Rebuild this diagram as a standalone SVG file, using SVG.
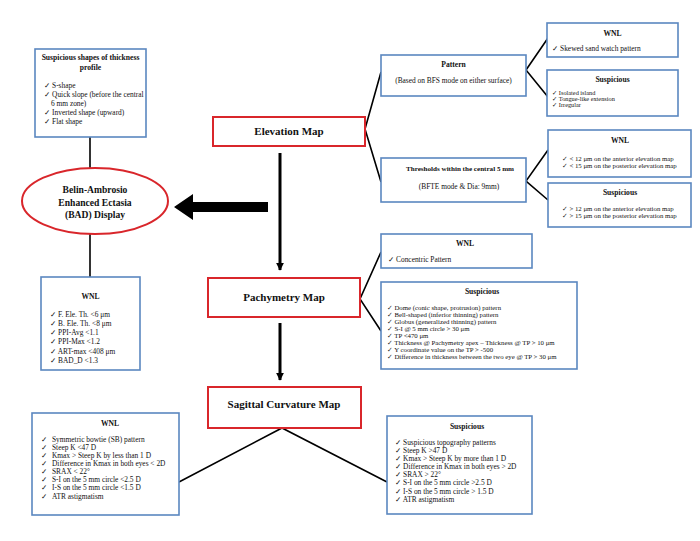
<svg xmlns="http://www.w3.org/2000/svg" width="700" height="541" viewBox="0 0 700 541">
<defs>
<style>
.bg{fill:#ffffff}
.blue{fill:#ffffff;stroke:#5b87c0;stroke-width:1.6}
.red{fill:#ffffff;stroke:#d9262b;stroke-width:2}
.ln{stroke:#000;stroke-width:1.6;fill:none}
.t{font-family:"Liberation Serif","DejaVu Sans",sans-serif;font-size:7.4px;fill:#111}
.s{font-size:6.8px}
.xs{font-size:6.3px}
.h{font-family:"Liberation Serif","DejaVu Serif",serif;font-size:7.6px;font-weight:bold;fill:#111}
.e{font-size:9.6px}
.m{font-family:"Liberation Serif","DejaVu Serif",serif;font-size:11px;font-weight:bold;fill:#111}
.c{text-anchor:middle}
</style>
<marker id="ah" viewBox="0 0 10 10" refX="9" refY="5" markerWidth="2.6" markerHeight="2.6" orient="auto"><path d="M0,0 L10,5 L0,10 z" fill="#000"/></marker>
</defs>
<rect class="bg" x="0" y="0" width="700" height="541"/>

<g id="connectors">
<line class="ln" x1="90" y1="137" x2="90" y2="169"/>
<line class="ln" x1="90" y1="234" x2="90" y2="277"/>
<path d="M268,202 L193,202 L193,194 L174,207 L193,220 L193,212 L268,212 z" fill="#000"/>
<line x1="280" y1="153" x2="280" y2="270" stroke="#000" stroke-width="3" marker-end="url(#ah)"/>
<line x1="280" y1="323" x2="280" y2="380" stroke="#000" stroke-width="3" marker-end="url(#ah)"/>
<polyline class="ln" points="381,72 365,129 381,182"/>
<polyline class="ln" points="548,38 526,70 548,97"/>
<polyline class="ln" points="548,150 526,181 548,200"/>
<polyline class="ln" points="381,252 360,299 381,331"/>
<polyline class="ln" points="179,482 282,428 387,482"/>
</g>

<g id="thickness-profile">
<rect class="blue" x="35" y="49" width="111" height="88"/>
<text class="h c" x="90.5" y="60">Suspicious shapes of thickness</text>
<text class="h c" x="90.5" y="70">profile</text>
<text class="t" x="44" y="88">✓ S-shape</text>
<text class="t" x="44" y="97">✓ Quick slope (before the central</text>
<text class="t" x="51" y="106">6 mm zone)</text>
<text class="t" x="44" y="115">✓ Inverted shape (upward)</text>
<text class="t" x="44" y="124">✓ Flat shape</text>
</g>

<g id="bad-display">
<ellipse cx="95" cy="201" rx="73" ry="33" fill="#fff" stroke="#d9262b" stroke-width="2"/>
<text class="h e c" x="95" y="193">Belin-Ambrosio</text>
<text class="h e c" x="95" y="205.5">Enhanced Ectasia</text>
<text class="h e c" x="95" y="218">(BAD) Display</text>
</g>

<g id="bad-wnl">
<rect class="blue" x="41" y="277" width="99" height="93"/>
<text class="h c" x="90.5" y="299">WNL</text>
<text class="t" x="50" y="317">✓ F. Ele. Th. &lt;6 μm</text>
<text class="t" x="50" y="326">✓ B. Ele. Th. &lt;8 μm</text>
<text class="t" x="50" y="335">✓ PPI-Avg &lt;1.1</text>
<text class="t" x="50" y="344">✓ PPI-Max &lt;1.2</text>
<text class="t" x="50" y="354">✓ ART-max &lt;408 μm</text>
<text class="t" x="50" y="363">✓ BAD_D &lt;1.3</text>
</g>

<g id="elevation-map">
<rect class="red" x="213" y="117" width="152" height="29"/>
<text class="m c" x="289" y="135">Elevation Map</text>
</g>

<g id="pattern">
<rect class="blue" x="381" y="55" width="145" height="41"/>
<text class="h c" x="453.5" y="67">Pattern</text>
<text class="t c" x="453.5" y="83">(Based on BFS mode on either surface)</text>
</g>

<g id="pattern-wnl">
<rect class="blue" x="547" y="23" width="131" height="34"/>
<text class="h c" x="612.5" y="36">WNL</text>
<text class="t" x="552" y="51">✓ Skewed sand watch pattern</text>
</g>

<g id="pattern-suspicious">
<rect class="blue" x="547" y="70" width="131" height="46"/>
<text class="h c" x="612.5" y="82">Suspicious</text>
<text class="t xs" x="552" y="95">✓ Isolated island</text>
<text class="t xs" x="552" y="101">✓ Tongue-like extension</text>
<text class="t xs" x="552" y="107">✓ Irregular</text>
</g>

<g id="thresholds">
<rect class="blue" x="381" y="158" width="145" height="44"/>
<text class="h c" x="460" y="171" style="font-size:7.1px">Thresholds within the central 5 mm</text>
<text class="t c" x="459" y="189">(BFTE mode &amp; Dia: 9mm)</text>
</g>

<g id="thresholds-wnl">
<rect class="blue" x="548" y="130" width="143" height="47"/>
<text class="h c" x="620" y="143">WNL</text>
<text class="t s" x="562" y="161">✓ &lt; 12 μm on the anterior elevation map</text>
<text class="t s" x="562" y="168">✓ &lt; 15 μm on the posterior elevation map</text>
</g>

<g id="thresholds-suspicious">
<rect class="blue" x="548" y="183" width="143" height="44"/>
<text class="h c" x="620" y="195">Suspicious</text>
<text class="t s" x="562" y="211">✓ &gt; 12 μm on the anterior elevation map</text>
<text class="t s" x="562" y="218">✓ &gt; 15 μm on the posterior elevation map</text>
</g>

<g id="pachymetry-map">
<rect class="red" x="208" y="278" width="152" height="39"/>
<text class="m c" x="284" y="301">Pachymetry Map</text>
</g>

<g id="pachymetry-wnl">
<rect class="blue" x="381" y="234" width="151" height="34"/>
<text class="h c" x="465" y="246">WNL</text>
<text class="t" x="388" y="262">✓ Concentric Pattern</text>
</g>

<g id="pachymetry-suspicious">
<rect class="blue" x="381" y="282" width="196" height="87"/>
<text class="h c" x="482" y="294">Suspicious</text>
<text class="t s" x="387" y="310">✓ Dome (conic shape, protrusion) pattern</text>
<text class="t s" x="387" y="317">✓ Bell-shaped (inferior thinning) pattern</text>
<text class="t s" x="387" y="324">✓ Globus (generalized thinning) pattern</text>
<text class="t s" x="387" y="331">✓ S-I @ 5 mm circle &gt; 30 μm</text>
<text class="t s" x="387" y="338">✓ TP &lt;470 μm</text>
<text class="t s" x="387" y="345">✓ Thickness @ Pachymetry apex – Thickness @ TP &gt; 10 μm</text>
<text class="t s" x="387" y="352">✓ Y coordinate value on the TP &gt; -500</text>
<text class="t s" x="387" y="359">✓ Difference in thickness between the two eye @ TP &gt; 30 μm</text>
</g>

<g id="sagittal-map">
<rect class="red" x="208" y="387" width="153" height="41"/>
<text class="m c" x="284" y="408">Sagittal Curvature Map</text>
</g>

<g id="sagittal-wnl">
<rect class="blue" x="32" y="413" width="147" height="102"/>
<text class="h c" x="110" y="426">WNL</text>
<text class="t" x="41" y="442">✓</text><text class="t" x="52" y="442">Symmetric bowtie (SB) pattern</text>
<text class="t" x="41" y="450">✓</text><text class="t" x="52" y="450">Steep K &lt;47 D</text>
<text class="t" x="41" y="458">✓</text><text class="t" x="52" y="458">Kmax &gt; Steep K by less than 1 D</text>
<text class="t" x="41" y="466">✓</text><text class="t" x="52" y="466">Difference in Kmax in both eyes &lt; 2D</text>
<text class="t" x="41" y="474">✓</text><text class="t" x="52" y="474">SRAX &lt; 22°</text>
<text class="t" x="41" y="482">✓</text><text class="t" x="52" y="482">S-I on the 5 mm circle &lt;2.5 D</text>
<text class="t" x="41" y="490">✓</text><text class="t" x="52" y="490">I-S on the 5 mm circle  &lt;1.5 D</text>
<text class="t" x="41" y="499">✓</text><text class="t" x="52" y="499">ATR astigmatism</text>
</g>

<g id="sagittal-suspicious">
<rect class="blue" x="387" y="416" width="145" height="98"/>
<text class="h c" x="467" y="429">Suspicious</text>
<text class="t" x="395" y="445">✓ Suspicious topography patterns</text>
<text class="t" x="395" y="453">✓ Steep K &gt;47 D</text>
<text class="t" x="395" y="461">✓ Kmax &gt; Steep K by more than 1 D</text>
<text class="t" x="395" y="469">✓ Difference in Kmax in both eyes &gt; 2D</text>
<text class="t" x="395" y="477">✓ SRAX &gt; 22°</text>
<text class="t" x="395" y="485">✓ S-I on the 5 mm circle &gt;2.5 D</text>
<text class="t" x="395" y="494">✓ I-S on the 5 mm circle &gt; 1.5 D</text>
<text class="t" x="395" y="502">✓ ATR astigmatism</text>
</g>
</svg>
